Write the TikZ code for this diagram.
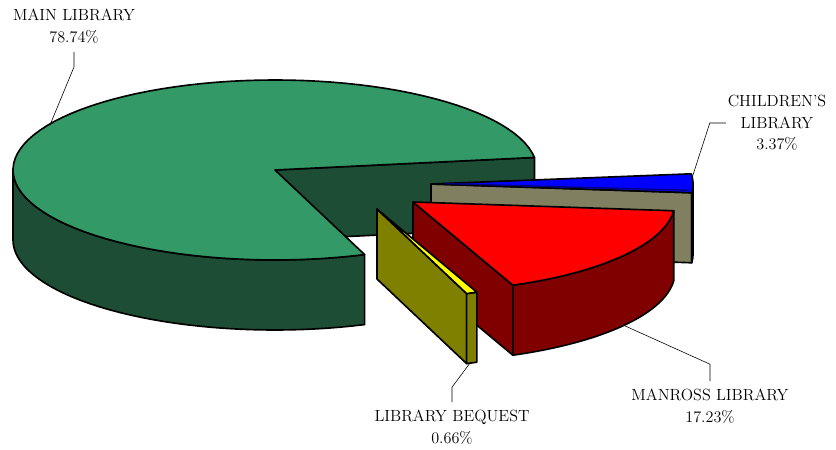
\documentclass[tikz,border=0pt]{standalone}
\usepackage{fontspec}

\definecolor{mainTop}{RGB}{51,153,102}
\definecolor{mainSide}{RGB}{29,77,53}
\definecolor{manTop}{RGB}{255,0,0}
\definecolor{manSide}{RGB}{128,0,0}
\definecolor{beqTop}{RGB}{255,255,0}
\definecolor{beqSide}{RGB}{128,128,0}
\definecolor{chTop}{RGB}{0,0,255}
\definecolor{chSide}{RGB}{128,128,96}
\definecolor{chEdge}{RGB}{0,0,128}

\begin{document}
\begin{tikzpicture}[x=0.03cm, y=-0.03cm,
		face/.style={draw=black, line width=1.4pt, line join=round},
		leader/.style={draw=black, line width=0.5pt},
		lbl/.style={inner sep=1.5pt, align=center, font=\fontsize{13.8}{18.3}\selectfont}]
		\useasboundingbox (0,0) rectangle (836,450);

		% main library, centre (275,170)
		\coordinate (cMain) at (275,170);
		\draw[face, fill=mainSide] (cMain) -- (534.45,157.47) -- (534.45,227.47) -- (275,240) -- cycle;
		\draw[face, fill=mainSide] plot[domain=180:290, samples=40, variable=\t] ({275+262*cos(\t)}, {170-90*sin(\t)})
			-- plot[domain=290:180, samples=40, variable=\t] ({275+262*cos(\t)}, {240-90*sin(\t)}) -- cycle;
		\draw[face, fill=mainTop] (cMain) -- plot[domain=8:290, samples=90, variable=\t] ({275+262*cos(\t)}, {170-90*sin(\t)}) -- cycle;

		% children's library, centre (431,184)
		\coordinate (cChild) at (431,184);
		\draw[face, fill=chSide] (cChild) -- (691.75,192.78) -- (691.75,262.78) -- (431,254) -- cycle;
		\draw[face, fill=chSide] plot[domain=354.4:360, samples=5, variable=\t] ({431+262*cos(\t)}, {184-90*sin(\t)})
			-- plot[domain=360:354.4, samples=5, variable=\t] ({431+262*cos(\t)}, {254-90*sin(\t)}) -- cycle;
		\draw[face, fill=chTop] (cChild) -- plot[domain=354.4:366.5, samples=10, variable=\t] ({431+262*cos(\t)}, {184-90*sin(\t)}) -- cycle;
		\draw[chEdge, line width=1.2pt] (445,183.6) -- (689,190.3);

		% manross library, centre (413,202)
		\coordinate (cMan) at (413,202);
		\draw[face, fill=manSide] (cMan) -- (512.85,285.2) -- (512.85,355.2) -- (413,272) -- cycle;
		\draw[face, fill=manSide] plot[domain=292.4:354.4, samples=40, variable=\t] ({413+262*cos(\t)}, {202-90*sin(\t)})
			-- plot[domain=354.4:292.4, samples=40, variable=\t] ({413+262*cos(\t)}, {272-90*sin(\t)}) -- cycle;
		\draw[face, fill=manTop] (cMan) -- plot[domain=292.4:354.4, samples=40, variable=\t] ({413+262*cos(\t)}, {202-90*sin(\t)}) -- cycle;

		% library bequest, centre (377,209)
		\coordinate (cBeq) at (377,209);
		\draw[face, fill=beqSide] (cBeq) -- (466.6,293.6) -- (466.6,363.6) -- (377,279) -- cycle;
		\draw[face, fill=beqSide] plot[domain=290:292.4, samples=4, variable=\t] ({377+262*cos(\t)}, {209-90*sin(\t)})
			-- plot[domain=292.4:290, samples=4, variable=\t] ({377+262*cos(\t)}, {279-90*sin(\t)}) -- cycle;
		\draw[face, fill=beqTop] (cBeq) -- plot[domain=290:292.4, samples=4, variable=\t] ({377+262*cos(\t)}, {209-90*sin(\t)}) -- cycle;

		% labels
		\node[lbl] (mainLbl) at (74,26) {MAIN LIBRARY\\78.74\%};
		\node[lbl] (chLbl) at (777,123) {CHILDREN{\char"0027}S\\LIBRARY\\3.37\%};
		\node[lbl] (manLbl) at (710,406) {MANROSS LIBRARY\\17.23\%};
		\node[lbl] (beqLbl) at (452,427) {LIBRARY BEQUEST\\0.66\%};

		\coordinate (mainTip) at (50,125);
		\coordinate (chTip) at (692,178);
		\coordinate (manTip) at (623,325);
		\coordinate (beqTip) at (470,363);

		\draw[leader] ([yshift=-6pt]mainLbl.south) -- ++(0,15) -- (mainTip);
		\draw[leader] (chLbl.west) -- ++(-16,0) -- (chTip);
		\draw[leader] ([yshift=5pt]manLbl.north) -- ++(0,-17) -- (manTip);
		\draw[leader] ([yshift=5pt]beqLbl.north) -- ++(0,-15) -- (beqTip);
	\end{tikzpicture}
\end{document}
